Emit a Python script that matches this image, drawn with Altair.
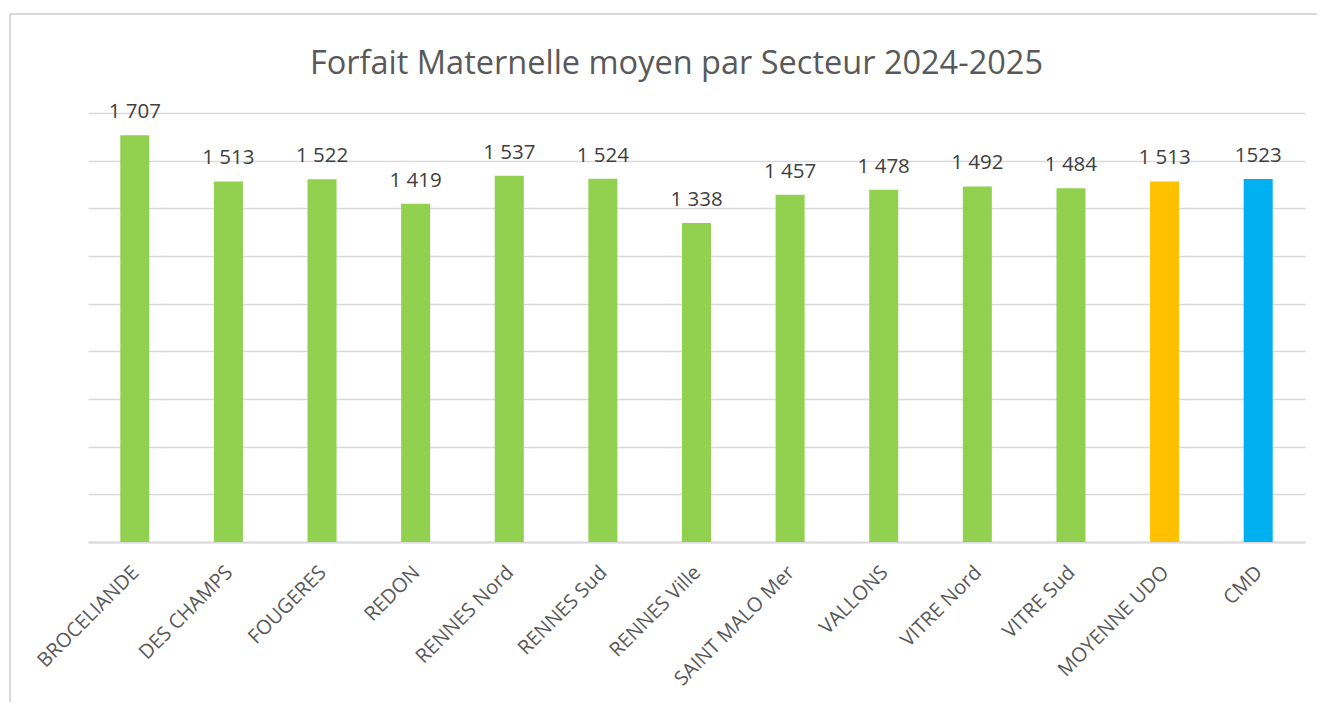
import altair as alt
import pandas as pd

secteurs = ["BROCELIANDE", "DES CHAMPS", "FOUGERES", "REDON", "RENNES Nord",
            "RENNES Sud", "RENNES Ville", "SAINT MALO Mer", "VALLONS",
            "VITRE Nord", "VITRE Sud", "MOYENNE UDO", "CMD"]
valeurs = [1707, 1513, 1522, 1419, 1537, 1524, 1338, 1457, 1478, 1492, 1484, 1513, 1523]
etiquettes = ["1 707", "1 513", "1 522", "1 419", "1 537", "1 524", "1 338",
              "1 457", "1 478", "1 492", "1 484", "1 513", "1523"]
groupes = ["Secteur"] * 11 + ["Moyenne", "CMD"]

df = pd.DataFrame({"secteur": secteurs, "valeur": valeurs,
                   "etiquette": etiquettes, "groupe": groupes})

FONT = "Open Sans"

x = alt.X("secteur:N", sort=secteurs, title=None,
          scale=alt.Scale(paddingInner=0.69, paddingOuter=0.345),
          axis=alt.Axis(labelAngle=-45, labelFontSize=20, labelColor="#595959",
                        labelFont=FONT, ticks=False, domainColor="#d9d9d9",
                        domainWidth=2, labelPadding=20, labelOffset=-6,
                        labelLimit=300))
y = alt.Y("valeur:Q", title=None,
          scale=alt.Scale(domain=[0, 1800], nice=False),
          axis=alt.Axis(values=list(range(0, 1801, 200)), labels=False, ticks=False,
                        domain=False, grid=True, gridColor="#d9d9d9", gridWidth=1.5))

base = alt.Chart(df)

bars = base.mark_bar().encode(
    x=x, y=y,
    color=alt.Color("groupe:N", legend=None,
                    scale=alt.Scale(domain=["Secteur", "Moyenne", "CMD"],
                                    range=["#92D050", "#FFC000", "#00B0F0"])),
)

labels = base.mark_text(baseline="bottom", dy=-13, fontSize=20.5, font=FONT,
                        color="#404040").encode(
    x=alt.X("secteur:N", sort=secteurs),
    y="valeur:Q",
    text="etiquette:N",
)

border_top = alt.Chart(df).mark_rule(color="#d9d9d9", strokeWidth=1.5).encode(
    x=alt.value(-78), x2=alt.value(1245), y=alt.value(-99))
border_left = alt.Chart(df).mark_rule(color="#d9d9d9", strokeWidth=1.5).encode(
    x=alt.value(-78), y=alt.value(-99), y2=alt.value(600))

chart = alt.layer(border_top, border_left, bars, labels).properties(
    width=1217, height=429,
    autosize=alt.AutoSizeParams(type="none"),
    padding={"left": 80, "top": 105, "right": 12, "bottom": 160},
    title=alt.TitleParams("Forfait Maternelle moyen par Secteur 2024-2025",
                          fontSize=32.5, font=FONT, fontWeight="normal",
                          color="#595959", anchor="middle", dx=-20,
                          baseline="alphabetic", offset=-93),
).configure_view(stroke=None)

chart.save("out.html", embed_options={"renderer": "svg", "actions": False})
